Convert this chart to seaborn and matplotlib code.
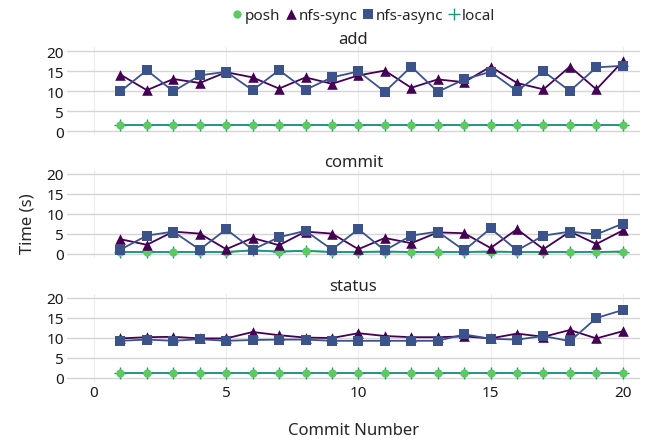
import matplotlib
matplotlib.use('Agg')
import matplotlib.pyplot as plt
import seaborn as sns
import pandas as pd
import numpy as np

commits = list(range(1, 21))
systems = ['posh', 'nfs-sync', 'nfs-async', 'local']
ops = ['add', 'commit', 'status']

# add
add_posh = [1.5] * 20
add_sync = [14.1, 10.2, 13.0, 12.0, 14.7, 13.4, 10.6, 13.4, 11.8, 13.9,
            15.1, 10.8, 12.9, 12.2, 16.1, 12.0, 10.4, 16.1, 10.4, 17.4]
add_async = [9.9, 15.2, 9.9, 13.9, 14.8, 10.2, 15.2, 10.3, 13.4, 14.9,
             9.8, 16.1, 9.8, 12.9, 14.8, 10.0, 14.9, 10.0, 15.9, 16.3]
add_local = [1.5] * 20

# commit
commit_posh = [0.5, 0.5, 0.5, 0.5, 0.5, 0.9, 0.6, 0.8, 0.5, 0.5,
               0.6, 0.5, 0.5, 0.5, 0.6, 0.5, 0.5, 0.5, 0.5, 0.6]
commit_sync = [3.7, 2.3, 5.6, 5.1, 1.2, 4.0, 2.2, 5.6, 5.1, 1.2,
               4.0, 2.7, 5.4, 5.2, 1.5, 6.2, 1.2, 5.6, 2.5, 5.9]
commit_async = [1.1, 4.6, 5.6, 1.1, 6.2, 1.1, 4.2, 5.8, 1.1, 6.2,
                0.9, 4.6, 5.6, 0.9, 6.4, 0.9, 4.6, 5.6, 4.9, 7.6]
commit_local = [0.5, 0.5, 0.5, 0.5, 0.5, 0.9, 0.6, 0.8, 0.5, 0.5,
                0.6, 0.5, 0.5, 0.5, 0.6, 0.5, 0.5, 0.5, 0.5, 0.6]

# status
status_posh = [1.2] * 20
status_sync = [9.9, 10.2, 10.3, 9.9, 9.9, 11.5, 10.7, 10.1, 10.0, 11.2,
               10.5, 10.2, 10.2, 10.4, 9.9, 11.1, 10.3, 12.0, 9.9, 11.7]
status_async = [9.3, 9.6, 9.3, 9.7, 9.3, 9.5, 9.6, 9.6, 9.3, 9.3,
                9.3, 9.3, 9.3, 10.9, 9.8, 9.6, 10.5, 9.2, 15.0, 17.0]
status_local = [1.2] * 20

series = {
    'add': [add_posh, add_sync, add_async, add_local],
    'commit': [commit_posh, commit_sync, commit_async, commit_local],
    'status': [status_posh, status_sync, status_async, status_local],
}

rows = []
for op in ops:
    for name, vals in zip(systems, series[op]):
        for c, v in zip(commits, vals):
            rows.append({'op': op, 'system': name, 'commit': c, 'time': v})
df = pd.DataFrame(rows)

palette = {'posh': '#5ec962', 'nfs-sync': '#440154', 'nfs-async': '#3b528b', 'local': '#21918c'}
markers = {'posh': 'o', 'nfs-sync': '^', 'nfs-async': 's', 'local': '+'}
sizes = {'posh': 36, 'nfs-sync': 58, 'nfs-async': 44, 'local': 64}
zorders = {'posh': 3.2, 'nfs-sync': 3.3, 'nfs-async': 3.4, 'local': 3.0}

sns.set_theme(style='whitegrid')
plt.rcParams['font.family'] = ['Noto Sans', 'DejaVu Sans']

fig = plt.figure(figsize=(6.45, 4.39), dpi=100)
left, width = 67 / 645, 573 / 645
bottoms = [1 - 136 / 439, 1 - 259 / 439, 1 - 383 / 439]
height = 88 / 439

handles = {}
for i, op in enumerate(ops):
    ax = fig.add_axes([left, bottoms[i], width, height])
    sub = df[df['op'] == op]
    # lines first, then points (ggplot layering)
    sns.lineplot(data=sub, x='commit', y='time', hue='system', hue_order=systems,
                 palette=palette, linewidth=1.3, legend=False, ax=ax)
    for name in systems:
        s = sub[sub['system'] == name]
        if name == 'local':
            h = ax.scatter(s['commit'], s['time'], marker='+', s=sizes[name], color=palette[name],
                           linewidths=1.0, zorder=zorders[name])
        else:
            h = ax.scatter(s['commit'], s['time'], marker=markers[name], s=sizes[name],
                           color=palette[name], linewidths=0, zorder=zorders[name])
        handles[name] = h
    ax.set_xlim(-1.02, 20.65)
    ax.set_ylim(-1, 21)
    ax.set_yticks([0, 5, 10, 15, 20])
    ax.set_xticks([0, 5, 10, 15, 20])
    ax.set_title(op, fontsize=12, pad=3)
    ax.set_xlabel('')
    ax.set_ylabel('')
    for sp in ax.spines.values():
        sp.set_visible(False)
    ax.grid(axis='y', color='#d5d5d5', linewidth=1.0)
    ax.grid(axis='x', color='#ececec', linewidth=0.8)
    ax.tick_params(axis='both', labelsize=11, length=0, pad=2, colors='#1a1a1a')
    if i < 2:
        ax.set_xticklabels([])
    else:
        ax.set_xlabel('Commit Number', fontsize=12, labelpad=16)

fig.text(27 / 645, 0.49, 'Time (s)', rotation=90, va='center', ha='center', fontsize=12)

fig.legend([handles[n] for n in systems], systems, loc='center', bbox_to_anchor=(362 / 645, 1 - 16 / 439),
           ncol=4, frameon=False, fontsize=11, handletextpad=0.0, columnspacing=0.2,
           handlelength=1.0, borderpad=0)

fig.savefig('out.png', dpi=100)
